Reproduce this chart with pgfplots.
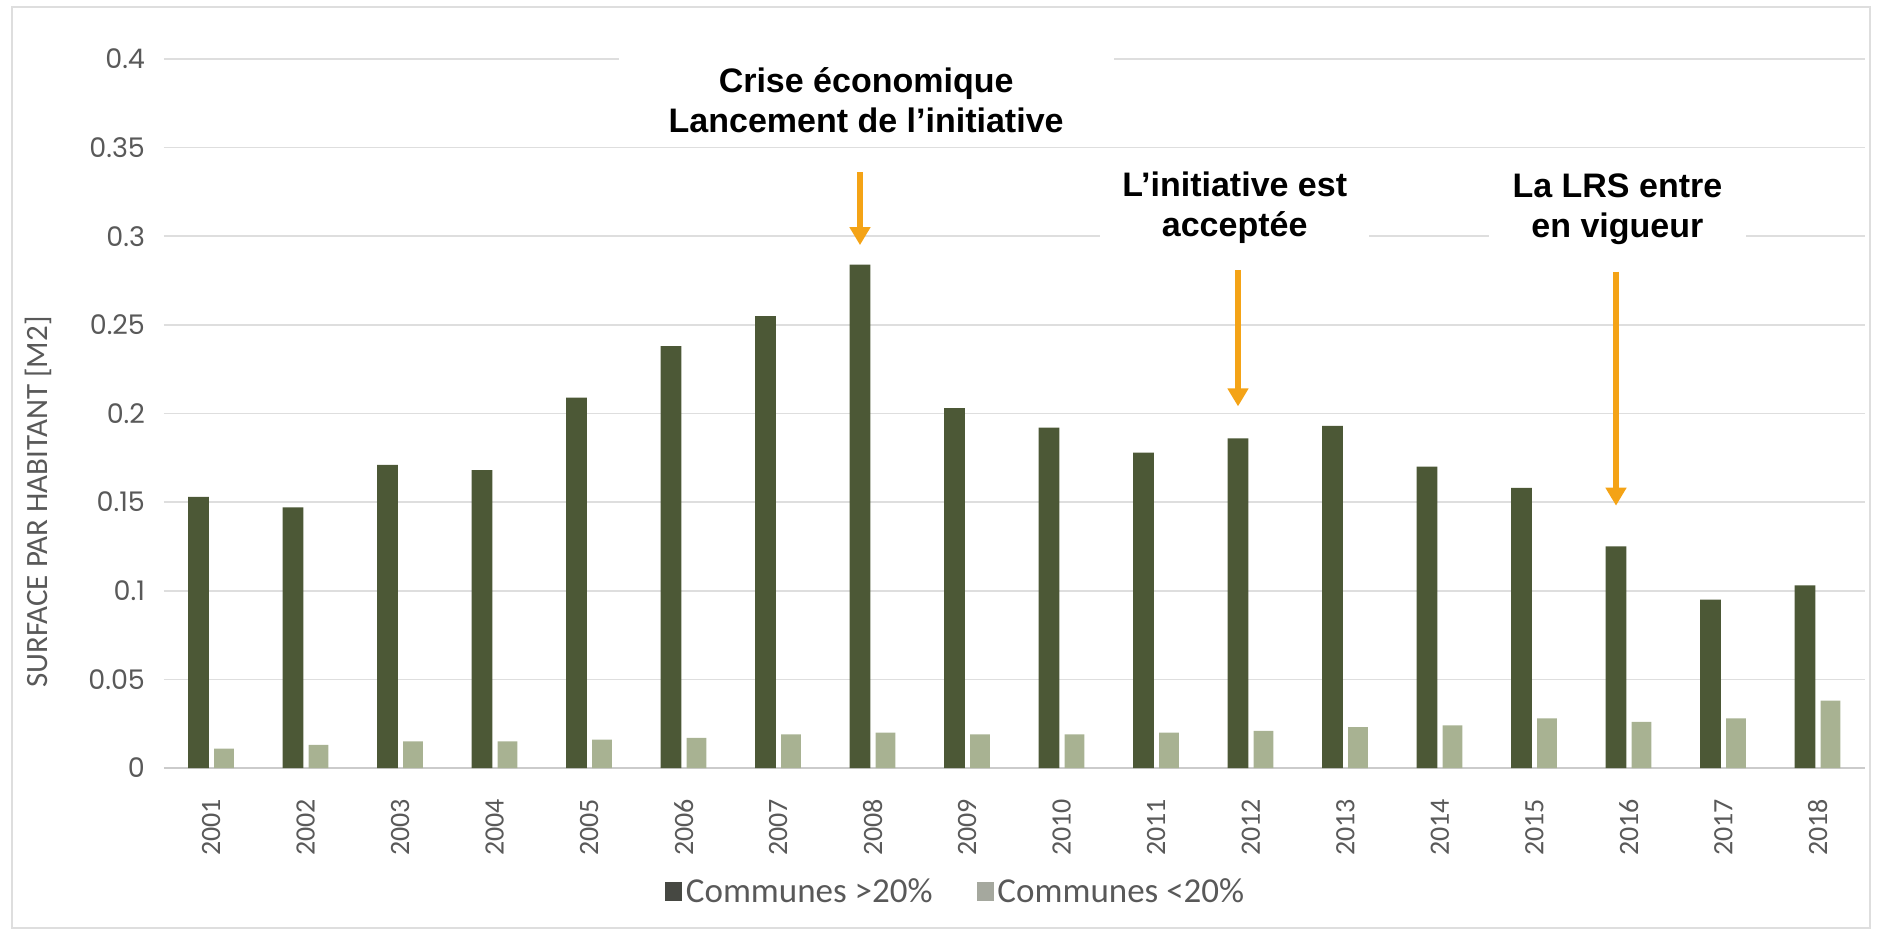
\documentclass[border=0pt]{standalone}
\usepackage{fontspec}
\setmainfont{Carlito}
\newfontfamily\annfont{Liberation Sans}
\newfontfamily\tickfont{Poppins}
\usepackage{pgfplots}
\usepackage{pgfplotstable}
\pgfplotsset{compat=1.18}
\usetikzlibrary{arrows.meta}
\definecolor{darkbar}{RGB}{76,88,54}
\definecolor{lightbar}{RGB}{168,178,146}
\definecolor{legdark}{RGB}{70,72,66}
\definecolor{leglight}{RGB}{165,168,158}
\definecolor{gridc}{RGB}{222,222,222}
\definecolor{txtgray}{RGB}{89,89,89}
\definecolor{arroworange}{RGB}{244,163,22}

\pgfplotstableread{
year dark light
2001 0.153 0.011
2002 0.147 0.013
2003 0.171 0.015
2004 0.168 0.015
2005 0.209 0.016
2006 0.238 0.017
2007 0.255 0.019
2008 0.284 0.020
2009 0.203 0.019
2010 0.192 0.019
2011 0.178 0.020
2012 0.186 0.021
2013 0.193 0.023
2014 0.170 0.024
2015 0.158 0.028
2016 0.125 0.026
2017 0.095 0.028
2018 0.103 0.038
}\datatable

\begin{document}
\begin{tikzpicture}
\begin{axis}[
  at={(0,0)}, anchor=south west,
  scale only axis, width=850.5pt, height=354.5pt,
  xmin=2000.5, xmax=2018.5, ymin=0, ymax=0.4,
  clip=false,
  axis x line*=bottom, axis y line*=left,
  x axis line style={draw=gridc!80!gray, line width=0.8pt, -},
  y axis line style={draw=none},
  ytick={0,0.05,0.1,0.15,0.2,0.25,0.3,0.35,0.4},
  yticklabels={0,0.05,0.1,0.15,0.2,0.25,0.3,0.35,0.4},
  xtick={2001,2002,2003,2004,2005,2006,2007,2008,2009,2010,2011,2012,2013,2014,2015,2016,2017,2018},
  xticklabels={2001,2002,2003,2004,2005,2006,2007,2008,2009,2010,2011,2012,2013,2014,2015,2016,2017,2018},
  major tick length=0pt,
  ymajorgrids, grid style={gridc, line width=0.8pt},
  x tick label style={rotate=90, anchor=east, xshift=-12pt, font=\fontsize{14}{14}\selectfont, text=txtgray},
  y tick label style={xshift=-6pt, font=\tickfont\fontsize{13.5}{13.5}\selectfont, text=txtgray},
  ylabel={SURFACE PAR HABITANT [M2]},
  every axis y label/.style={at={(axis description cs:-0.074,0.375)}, rotate=90, anchor=center, font=\fontsize{15.5}{15.5}\selectfont, text=txtgray},
  legend style={at={(axis description cs:0.466,-0.175)}, anchor=center, draw=none, fill=none,
    font=\fontsize{17.5}{17.5}\selectfont, text=txtgray, legend columns=2,
    /tikz/every even column/.append style={column sep=20pt}},
  legend cell align=left,
]
\addplot[ybar, bar width=0.22, bar shift=-0.135, fill=darkbar, draw=none, forget plot] table[x=year, y=dark] {\datatable};
\addplot[ybar, bar width=0.21, bar shift=0.135, fill=lightbar, draw=none, forget plot] table[x=year, y=light] {\datatable};
\addlegendimage{legend image code/.code={\fill[legdark] (0pt,-4pt) rectangle (8pt,5pt);}}
\addlegendentry{Communes >20\%}
\addlegendimage{legend image code/.code={\fill[leglight] (0pt,-4pt) rectangle (8pt,5pt);}}
\addlegendentry{Communes <20\%}

\node[fill=white, inner xsep=25pt, inner ysep=7pt, align=center, font=\annfont\bfseries\fontsize{17}{20}\selectfont]
  at (axis cs:2007.93,0.377) {Crise économique\\Lancement de l’initiative};
\node[fill=white, inner xsep=11pt, inner ysep=5pt, align=center, font=\annfont\bfseries\fontsize{17}{20}\selectfont]
  at (axis cs:2011.83,0.316) {L’initiative est\\acceptée};
\node[fill=white, inner xsep=12pt, inner ysep=5pt, align=center, font=\annfont\bfseries\fontsize{17}{20}\selectfont]
  at (axis cs:2015.88,0.315) {La LRS entre\\en vigueur};

\draw[arroworange, line width=2.6pt, -{Triangle[width=10pt,length=9pt]}] (axis cs:2007.865,0.336) -- (axis cs:2007.865,0.295);
\draw[arroworange, line width=2.6pt, -{Triangle[width=10pt,length=9pt]}] (axis cs:2011.865,0.281) -- (axis cs:2011.865,0.204);
\draw[arroworange, line width=2.6pt, -{Triangle[width=10pt,length=9pt]}] (axis cs:2015.865,0.280) -- (axis cs:2015.865,0.148);
\end{axis}
\pgfresetboundingbox
\draw[gridc, line width=0.8pt] (-76pt,-80pt) rectangle (853pt,380.5pt);
\path[use as bounding box] (-82pt,-83pt) rectangle (857pt,384pt);
\end{tikzpicture}
\end{document}
